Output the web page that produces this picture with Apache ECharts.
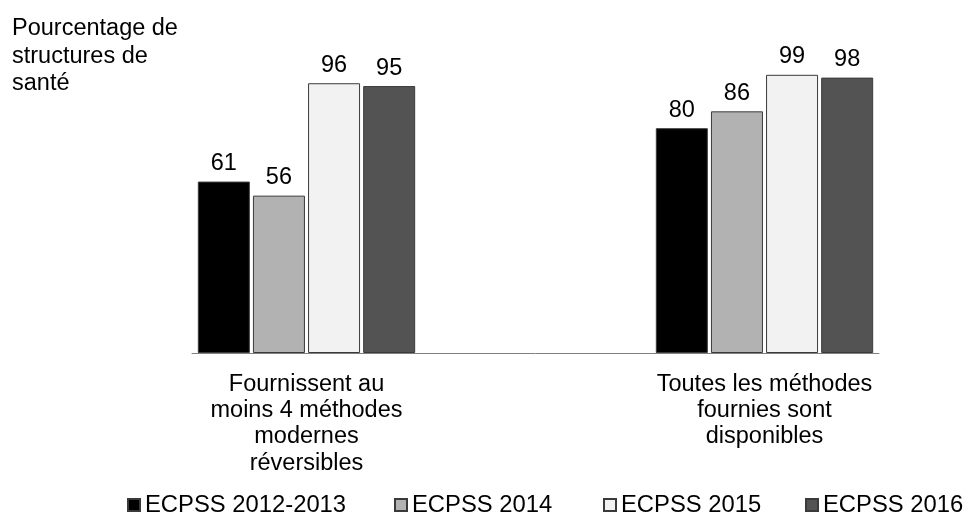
<!DOCTYPE html>
<html>
<head>
<meta charset="utf-8">
<script src="https://cdn.jsdelivr.net/npm/echarts@6/dist/echarts.min.js"></script>
<style>
html,body{margin:0;padding:0;background:#fff;}
#chart{width:968px;height:516px;}
</style>
</head>
<body>
<div id="chart"></div>
<script>
const categories = [
  "Fournissent au\nmoins 4 méthodes\nmodernes\nréversibles",
  "Toutes les méthodes\nfournies sont\ndisponibles"
];
const seriesNames = ["ECPSS 2012-2013", "ECPSS 2014", "ECPSS 2015", "ECPSS 2016"];
const ecpss20122013 = [61, 80];
const ecpss2014 = [56, 86];
const ecpss2015 = [96, 99];
const ecpss2016 = [95, 98];
const yAxisTitle = "Pourcentage de\nstructures de\nsanté";

const colors = ["#000000", "#b2b2b2", "#f2f2f2", "#535353"];
const allValues = [ecpss20122013, ecpss2014, ecpss2015, ecpss2016];
const legendLefts = [122, 389, 598, 800];

// spacer category between the two groups
const axisCats = [categories[0], "", categories[1]];
function withSpacer(arr) { return [arr[0], "-", arr[1]]; }

const FONT = "Liberation Sans, Arial, sans-serif";

const chart = echarts.init(document.getElementById('chart'), null, {renderer: 'canvas'});
chart.setOption({
  animation: false,
  backgroundColor: '#ffffff',
  textStyle: {fontFamily: FONT},
  title: {
    text: yAxisTitle,
    left: 7,
    top: 10,
    textStyle: {fontFamily: FONT, fontSize: 23.5, fontWeight: 'normal', color: '#000', lineHeight: 27.5}
  },
  legend: seriesNames.map((name, i) => ({
    top: 488,
    left: legendLefts[i],
    icon: 'rect',
    itemWidth: 12,
    itemHeight: 12,
    textStyle: {fontFamily: FONT, fontSize: 23.8, color: '#000'},
    data: [name]
  })),
  grid: {left: 192, right: 89, top: 72, bottom: 163},
  xAxis: {
    type: 'category',
    data: axisCats,
    axisLine: {show: true, lineStyle: {color: '#808080', width: 1}},
    axisTick: {show: false},
    axisLabel: {interval: 0, fontSize: 23.5, color: '#000', lineHeight: 26.3, margin: 18, fontFamily: FONT}
  },
  yAxis: {
    type: 'value', min: 0, max: 100,
    show: false,
    splitLine: {show: false}
  },
  series: seriesNames.map((name, i) => ({
    name: name,
    type: 'bar',
    barWidth: 52,
    barGap: '6%',
    data: withSpacer(allValues[i]),
    itemStyle: {color: colors[i], borderColor: '#3a3a3a', borderWidth: 1},
    label: {show: true, position: 'top', distance: 6, fontSize: 23.5, color: '#000', fontFamily: FONT}
  }))
});
</script>
</body>
</html>
